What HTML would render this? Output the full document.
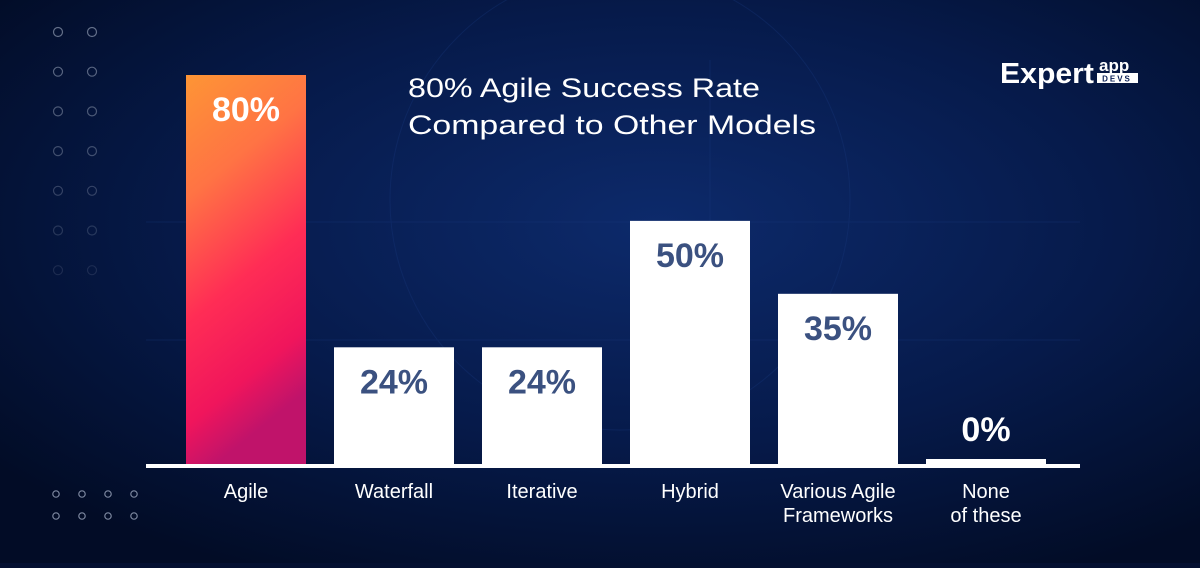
<!DOCTYPE html>
<html><head><meta charset="utf-8"><style>
body{margin:0;width:1200px;height:563px;overflow:hidden;background:#041031;font-family:"Liberation Sans",sans-serif}
</style></head><body>
<svg width="1200" height="563" viewBox="0 0 1200 563">
<defs>
<radialGradient id="bg" cx="0.55" cy="0.4" r="0.7">
<stop offset="0" stop-color="#0d2a6b"/><stop offset="0.55" stop-color="#061a4a"/><stop offset="1" stop-color="#020c26"/>
</radialGradient>
<linearGradient id="ag" x1="0" y1="0" x2="0.25" y2="1">
<stop offset="0" stop-color="#fd9535"/><stop offset="0.3" stop-color="#ff7344"/><stop offset="0.6" stop-color="#ff2d55"/><stop offset="0.85" stop-color="#f0155c"/><stop offset="1" stop-color="#c0136a"/>
</linearGradient>
</defs>
<rect width="1200" height="563" fill="url(#bg)"/>
<g stroke="#1a3a80" stroke-width="1" opacity="0.3" fill="none">
<circle cx="620" cy="200" r="230"/><line x1="146" y1="340" x2="1080" y2="340"/><line x1="146" y1="222" x2="1080" y2="222"/><line x1="710" y1="60" x2="710" y2="460"/>
</g>
<g id="dots" fill="none" stroke="#7c879f" stroke-width="1.2"></g>
<text x="408" y="97" font-size="27" fill="#fff" textLength="352" lengthAdjust="spacingAndGlyphs">80% Agile Success Rate</text>
<text x="408" y="134" font-size="27" fill="#fff" textLength="408" lengthAdjust="spacingAndGlyphs">Compared to Other Models</text>
<g>
<text x="1000" y="83" font-size="29" font-weight="bold" fill="#fff" textLength="94" lengthAdjust="spacingAndGlyphs">Expert</text>
<text x="1099" y="71" font-size="17" font-weight="bold" fill="#fff">app</text>
<rect x="1097" y="73" width="41" height="10" fill="#fff"/>
<text x="1117" y="81.5" font-size="8" font-weight="bold" fill="#0a1f55" text-anchor="middle" letter-spacing="2">DEVS</text>
</g>
<g id="bars"></g>
<rect x="146" y="464" width="934" height="4" fill="#fff"/>
</svg>
<script>
const categories=["Agile","Waterfall","Iterative","Hybrid","Various Agile|Frameworks","None|of these"];
const values=[80,24,24,50,35,0];
const valueLabels=["80%","24%","24%","50%","35%","0%"];
const NS="http://www.w3.org/2000/svg";
const base=464,pxPer=389/80;
function y(v){return base-v*pxPer;}
function x(i){return 186+i*148;}
const bw=120;
const g=document.getElementById('bars');
function mk(t,a){const e=document.createElementNS(NS,t);for(const k in a)e.setAttribute(k,a[k]);return e;}
values.forEach((v,i)=>{
  const h=Math.max(base-y(v),5);
  const r=mk('rect',{x:x(i),y:base-h,width:bw,height:h,fill:i===0?'url(#ag)':'#fff'});
  
  
  g.appendChild(r);
  const small=(base-y(v))<60;
  const ly=small?base-h-18:y(v)+46;
  const t=mk('text',{x:x(i)+bw/2,y:ly,'text-anchor':'middle','font-size':34,'font-weight':'bold',fill:(i===0||small)?'#fff':'#3b5180'});
  t.textContent=valueLabels[i];
  
  
  g.appendChild(t);
  const parts=categories[i].split('|');
  parts.forEach((p,j)=>{
    const c=mk('text',{x:x(i)+bw/2,y:498+j*24,'text-anchor':'middle','font-size':20,fill:'#fff'});
    c.textContent=p;
    
    
    g.appendChild(c);
  });
});
const d=document.getElementById('dots');
for(let r=0;r<7;r++)for(let c=0;c<2;c++){
  const e=mk('circle',{cx:58+c*34,cy:32+r*39.7,r:4.5,opacity:0.8-r*0.1});
  
  
  d.appendChild(e);
}
for(let r=0;r<2;r++)for(let c=0;c<4;c++){
  const e=mk('circle',{cx:56+c*26,cy:494+r*22,r:3.2});
  
  
  d.appendChild(e);
}
</script>
</body></html>
